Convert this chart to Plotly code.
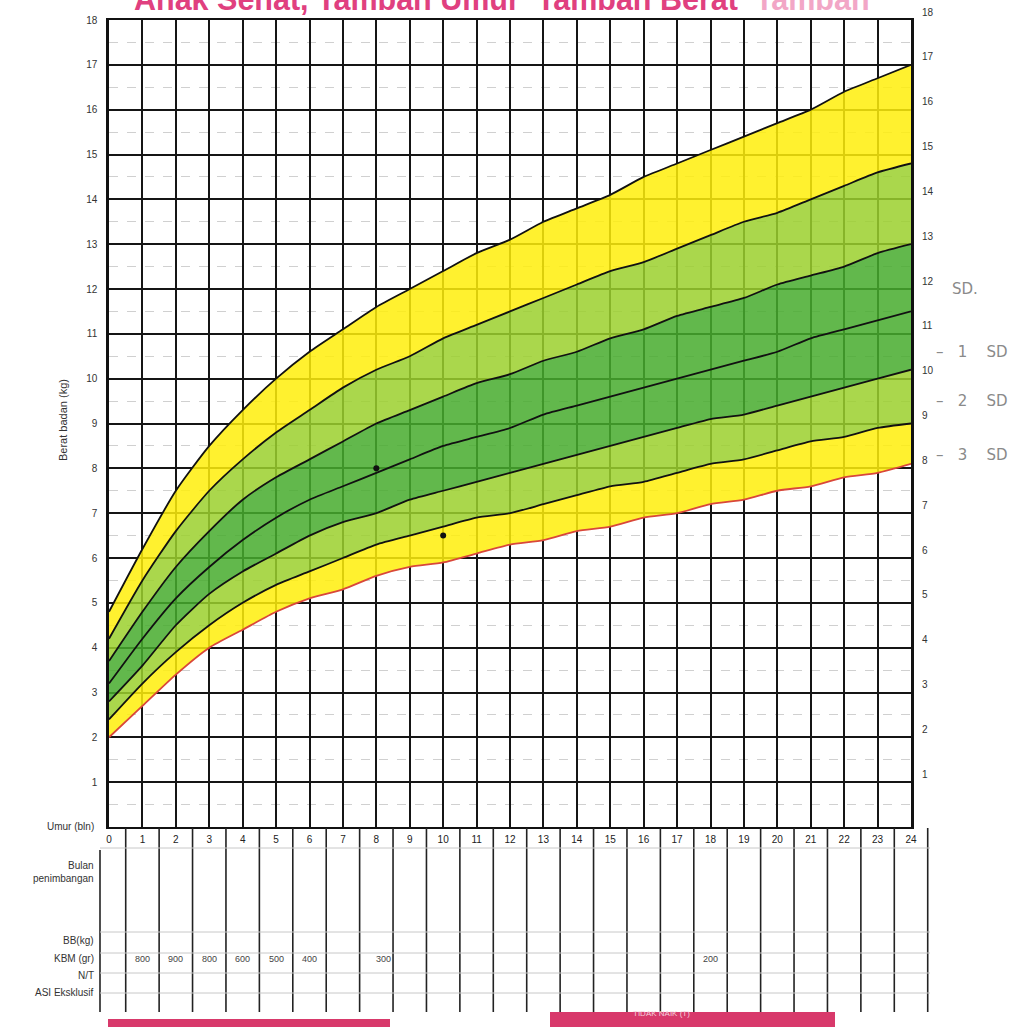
import plotly.graph_objects as go

# ---- data ----
months = list(range(25))
sd_minus3 = [2.0, 2.7, 3.4, 4.0, 4.4, 4.8, 5.1, 5.3, 5.6, 5.8, 5.9, 6.1, 6.3,
             6.4, 6.6, 6.7, 6.9, 7.0, 7.2, 7.3, 7.5, 7.6, 7.8, 7.9, 8.1]
sd_minus2 = [2.4, 3.2, 3.9, 4.5, 5.0, 5.4, 5.7, 6.0, 6.3, 6.5, 6.7, 6.9, 7.0,
             7.2, 7.4, 7.6, 7.7, 7.9, 8.1, 8.2, 8.4, 8.6, 8.7, 8.9, 9.0]
sd_minus1 = [2.8, 3.6, 4.5, 5.2, 5.7, 6.1, 6.5, 6.8, 7.0, 7.3, 7.5, 7.7, 7.9,
             8.1, 8.3, 8.5, 8.7, 8.9, 9.1, 9.2, 9.4, 9.6, 9.8, 10.0, 10.2]
median = [3.2, 4.2, 5.1, 5.8, 6.4, 6.9, 7.3, 7.6, 7.9, 8.2, 8.5, 8.7, 8.9,
          9.2, 9.4, 9.6, 9.8, 10.0, 10.2, 10.4, 10.6, 10.9, 11.1, 11.3, 11.5]
sd_plus1 = [3.7, 4.8, 5.8, 6.6, 7.3, 7.8, 8.2, 8.6, 9.0, 9.3, 9.6, 9.9, 10.1,
            10.4, 10.6, 10.9, 11.1, 11.4, 11.6, 11.8, 12.1, 12.3, 12.5, 12.8, 13.0]
sd_plus2 = [4.2, 5.5, 6.6, 7.5, 8.2, 8.8, 9.3, 9.8, 10.2, 10.5, 10.9, 11.2, 11.5,
            11.8, 12.1, 12.4, 12.6, 12.9, 13.2, 13.5, 13.7, 14.0, 14.3, 14.6, 14.8]
sd_plus3 = [4.8, 6.2, 7.5, 8.5, 9.3, 10.0, 10.6, 11.1, 11.6, 12.0, 12.4, 12.8, 13.1,
            13.5, 13.8, 14.1, 14.5, 14.8, 15.1, 15.4, 15.7, 16.0, 16.4, 16.7, 17.0]

child_months = [8, 10]
child_weights = [8.0, 6.5]

kbm_months = [1, 2, 3, 4, 5, 6, 8.2, 18]
kbm_values = ["800", "900", "800", "600", "500", "400", "300", "200"]

row_labels = ["Bulan<br>penimbangan", "BB(kg)", "KBM (gr)", "N/T", "ASI Eksklusif"]
row_pix = [886, 948, 966, 983, 1000]

sd_notes = ["SD.", "–   1    SD", "–   2    SD", "–   3    SD"]
sd_note_y = [12.0, 10.6, 9.5, 8.3]

title_main = "Anak Sehat, Tambah Umur  Tambah Berat  "
title_faded = "Tambah"

# ---- geometry helpers (screen pixels, body margin removed) ----
W, H = 1022, 1027
L, T = 109, 20
PW, PH = 802, 807
R, B = W - L - PW, H - T - PH


def py(s):  # screen pixel y -> paper y
    return (T + PH - s) / PH


def px(s):  # screen pixel x -> paper x
    return (s - L) / PW


YELLOW = "rgba(255,238,10,0.85)"
LGREEN = "rgba(155,208,45,0.85)"
DGREEN = "rgba(70,172,45,0.85)"

fig = go.Figure()
series = [
    (sd_minus3, None, "#d9473a"),
    (sd_minus2, YELLOW, "#111"),
    (sd_minus1, LGREEN, "#111"),
    (median, DGREEN, "#111"),
    (sd_plus1, DGREEN, "#111"),
    (sd_plus2, LGREEN, "#111"),
    (sd_plus3, YELLOW, "#111"),
]
for vals, fc, lc in series:
    fig.add_trace(go.Scatter(
        x=months, y=vals, mode="lines",
        line=dict(color=lc, width=1.8, shape="spline", smoothing=0.6),
        fill="tonexty" if fc else None, fillcolor=fc,
        hoverinfo="skip", showlegend=False))

fig.add_trace(go.Scatter(x=child_months, y=child_weights, mode="markers",
                         marker=dict(color="#111", size=6), showlegend=False))
# invisible trace carrying the right-hand axis
fig.add_trace(go.Scatter(x=[0], y=[0], yaxis="y2", mode="markers",
                         marker=dict(opacity=0), showlegend=False, hoverinfo="skip"))

tickfont = dict(family="Liberation Sans, Arial", size=10, color="#333")
fig.update_layout(
    width=W, height=H,
    margin=dict(l=L, r=R, t=T, b=B, autoexpand=False),
    paper_bgcolor="white", plot_bgcolor="white",
    xaxis=dict(range=[0, 24], dtick=1, tick0=0, showgrid=True,
               gridcolor="#151515", gridwidth=1.6, automargin=False,
               showline=True, linecolor="#111", linewidth=2, mirror=True,
               ticks="", tickfont=dict(family="Liberation Sans, Arial", size=10, color="#222"),
               ticklabelstandoff=2, zeroline=False),
    yaxis=dict(range=[0, 18], tickvals=list(range(1, 19)), showgrid=True,
               gridcolor="#151515", gridwidth=1.6, automargin=False,
               minor=dict(dtick=0.5, showgrid=True, gridcolor="#d0d0d0",
                          gridwidth=1, griddash="dash"),
               showline=True, linecolor="#111", linewidth=2.5, mirror=True,
               ticks="", tickfont=tickfont, ticklabelstandoff=7,
               zeroline=False),
    yaxis2=dict(range=[0, 18], tickvals=list(range(1, 19)), overlaying="y", side="right",
                showgrid=False, ticks="", tickfont=tickfont, automargin=False,
                ticklabelstandoff=10, ticklabelshift=-8, zeroline=False),
)

ann = []
ann.append(dict(text="<b>" + title_main + "<span style='color:#f2a6c6'>" + title_faded + "</span></b>",
                xref="paper", yref="paper",
                x=px(132), y=py(-1), xanchor="left", yanchor="middle",
                showarrow=False,
                font=dict(family="Liberation Sans, Arial", size=30.5, color="#e0407f")))
ann.append(dict(text="Berat badan (kg)", xref="paper", yref="paper",
                x=px(55), y=py(420), textangle=-90, showarrow=False,
                font=dict(family="Liberation Sans, Arial", size=11, color="#333")))
ann.append(dict(text="Umur (bln)", xref="paper", yref="paper",
                x=px(96), y=py(834), xanchor="right", showarrow=False,
                font=dict(family="Liberation Sans, Arial", size=10, color="#333")))
for lab, yp in zip(row_labels, row_pix):
    ann.append(dict(text=lab, xref="paper", yref="paper", x=px(96), y=py(yp),
                    xanchor="right", align="right", showarrow=False,
                    font=dict(family="Liberation Sans, Arial", size=10, color="#333")))
for m, v in zip(kbm_months, kbm_values):
    ann.append(dict(text=v, xref="x", yref="paper", x=m, y=py(966),
                    showarrow=False,
                    font=dict(family="Liberation Sans, Arial", size=9, color="#444")))
for t, yv in zip(sd_notes, sd_note_y):
    ann.append(dict(text=t, xref="paper", yref="y",
                    x=px(934) if t != "SD." else px(950),
                    y=yv, xanchor="left", showarrow=False,
                    font=dict(family="DejaVu Sans", size=15, color="#8a8a8a")))
ann.append(dict(text="TIDAK NAIK (T)", xref="paper", yref="paper",
                x=px(692), y=py(1020), showarrow=False,
                font=dict(family="Liberation Sans, Arial", size=8, color="#f4d0dc")))

shapes = []
# table column lines at half months
for m in range(25):
    shapes.append(dict(type="line", xref="paper", yref="paper",
                       x0=(m + 0.5) / 24, x1=(m + 0.5) / 24,
                       y0=py(828), y1=py(1012),
                       line=dict(color="#222", width=1.6)))
shapes.append(dict(type="line", xref="paper", yref="paper",
                   x0=px(100), x1=px(100), y0=py(850), y1=py(1012),
                   line=dict(color="#222", width=1.6)))
for yp in [848, 932, 953, 973, 993]:
    shapes.append(dict(type="line", xref="paper", yref="paper",
                       x0=px(100), x1=px(930), y0=py(yp), y1=py(yp),
                       line=dict(color="#c8c8c8", width=1)))
# pink status boxes
shapes.append(dict(type="rect", xref="paper", yref="paper",
                   x0=px(108), x1=px(390), y0=py(1019), y1=py(1035),
                   fillcolor="#d8396b", line=dict(width=0)))
shapes.append(dict(type="rect", xref="paper", yref="paper",
                   x0=px(550), x1=px(835), y0=py(1012), y1=py(1035),
                   fillcolor="#d8396b", line=dict(width=0)))

fig.update_layout(annotations=ann, shapes=shapes)
fig.write_html(
    "out.html",
    config={"displayModeBar": False},
    post_script="document.body.style.margin='0';document.body.style.overflow='hidden';",
)
